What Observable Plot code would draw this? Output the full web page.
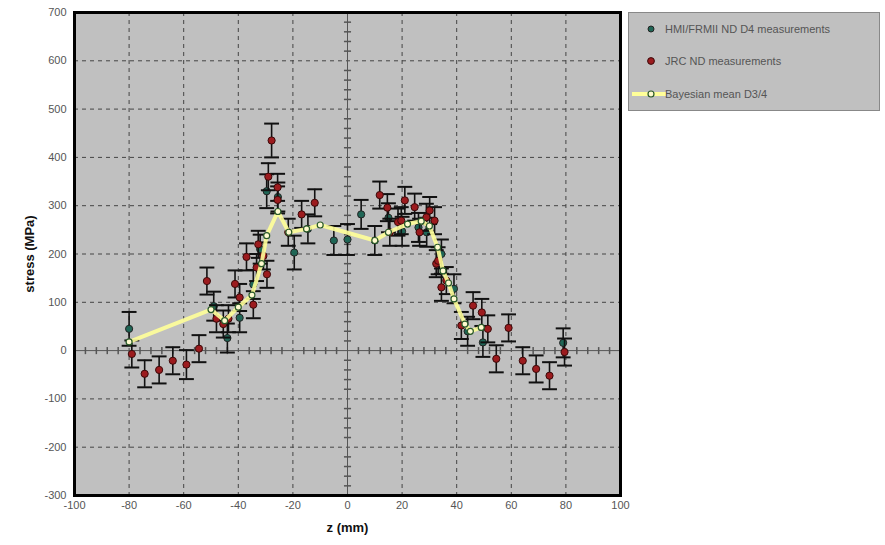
<!DOCTYPE html>
<html><head><meta charset="utf-8">
<script src="https://cdn.jsdelivr.net/npm/d3@7"></script>
<script src="https://cdn.jsdelivr.net/npm/@observablehq/plot@0.6"></script>
<style>
body{margin:0;background:#fff;font-family:"Liberation Sans",Arial,sans-serif;}
#wrap{position:relative;width:885px;height:545px;}
#legend{position:absolute;left:628px;top:12px;}
svg text{font-family:"Liberation Sans",Arial,sans-serif;}
#chart [aria-label="x-axis label"] text, #chart [aria-label="y-axis label"] text{font-weight:bold;font-size:13px;fill:#111;}
#chart [aria-label="x-axis tick label"] text, #chart [aria-label="y-axis tick label"] text{fill:#555;}
</style></head>
<body><div id="wrap"><div id="chart"></div><div id="legend"></div></div>
<script>
// HMI/FRMII ND D4 measurements
const hmiZ = [-80,-49,-44,-39.5,-34.5,-32,-29.6,-25.5,-19.5,-14.5,-5,0,5,10,15,20,26,29,34.4,39,44,49.6,79];
const hmiS = [45,92,26,68,137,210,330,318,203,252,228,230,282,228,275,247,255,245,200,128,40,17,16];
const hmiE = [35,30,30,30,30,30,35,30,35,30,30,32,30,30,30,30,30,30,30,30,30,30,30];
// JRC ND measurements
const jrcZ = [-79,-74.3,-69,-64,-59,-54.4,-51.5,-48,-45.5,-43.6,-41.2,-39.5,-37,-34.5,-33.3,-32.7,-30.8,-29.5,-29,-27.8,-25.6,-25.6,-21.7,-16.8,-12,11.8,14.6,15.5,18.5,19.7,21,24.6,26.4,28.9,30.1,31.9,32.5,33.2,34.4,36.2,41.7,46,49.2,51.4,54.5,59,64.2,69.1,74,79.5];
const jrcS = [-7,-48,-40,-21,-29,4,144,66,55,66,138,110,194,95,172,220,196,158,360,435,338,312,245,282,306,322,296,245,266,269,311,297,245,276,290,269,180,186,131,145,52,93,79,45,-17,47,-21,-38,-52,-3];
const jrcE = [28,28,28,28,30,28,28,28,28,28,28,28,28,28,28,28,28,28,28,35,28,28,28,28,28,28,28,28,28,28,28,28,28,28,28,28,28,28,28,28,28,28,28,28,28,28,28,28,28,28];
// Bayesian mean D3/4
const bayZ = [-80,-50,-45,-40,-35,-31.5,-29.6,-25.5,-21.5,-15,-10,10,15,22,27,30,33,35,37,39,43,45,49];
const bayS = [18,85,62,90,115,180,238,288,245,252,260,228,245,262,268,258,214,165,140,107,55,40,48];
// axes
const xTicks = [-100,-80,-60,-40,-20,0,20,40,60,80,100];
const yTicks = [-300,-200,-100,0,100,200,300,400,500,600,700];
const xMinor = [-96,-92,-88,-84,-76,-72,-68,-64,-56,-52,-48,-44,-36,-32,-28,-24,-16,-12,-8,-4,4,8,12,16,24,28,32,36,44,48,52,56,64,68,72,76,84,88,92,96];
const yMinor = [-280,-260,-240,-220,-180,-160,-140,-120,-80,-60,-40,-20,20,40,60,80,120,140,160,180,220,240,260,280,320,340,360,380,420,440,460,480,520,540,560,580,620,640,660,680];

const hmi = hmiZ.map((z,i)=>({z, s:hmiS[i], e:hmiE[i]}));
const jrc = jrcZ.map((z,i)=>({z, s:jrcS[i], e:jrcE[i]}));
const bay = bayZ.map((z,i)=>({z, s:bayS[i]}));

const hCap = {draw(ctx, size){const w=Math.sqrt(size); ctx.moveTo(-w,0); ctx.lineTo(w,0);}};
const vTick = {draw(ctx, size){const w=Math.sqrt(size); ctx.moveTo(0,-w); ctx.lineTo(0,w);}};

const RED="#9c1b1e", GRN="#1f6656", YEL="#ffff99";

function errMarks(data){
  return [
    Plot.ruleX(data,{x:"z", y1:d=>d.s-d.e, y2:d=>d.s+d.e, stroke:"#111", strokeWidth:1.6}),
    Plot.dot(data,{x:"z", y:d=>d.s-d.e, symbol:hCap, r:4.2, stroke:"#111", strokeWidth:2}),
    Plot.dot(data,{x:"z", y:d=>d.s+d.e, symbol:hCap, r:4.2, stroke:"#111", strokeWidth:2})
  ];
}

const chart = Plot.plot({
  width:885, height:545,
  marginLeft:74, marginRight:265, marginTop:12, marginBottom:50,
  style:{fontSize:"11px", background:"transparent", overflow:"visible"},
  x:{domain:[-100,100], ticks:xTicks, tickSize:0, tickPadding:6, tickFormat:d=>String(d), label:"z (mm)", labelAnchor:"center", labelArrow:"none", labelOffset:36},
  y:{domain:[-300,700], ticks:yTicks, tickSize:0, tickPadding:8, tickFormat:d=>String(d), label:"stress (MPa)", labelAnchor:"center", labelArrow:"none", labelOffset:50},
  marks:[
    Plot.frame({fill:"#c0c0c0"}),
    Plot.gridX(xTicks.filter(t=>t!==0 && t!==-100 && t!==100),{stroke:"#444", strokeOpacity:1, strokeWidth:1, strokeDasharray:"4,4"}),
    Plot.gridY(yTicks.filter(t=>t!==0 && t!==-300 && t!==700),{stroke:"#444", strokeOpacity:1, strokeWidth:1, strokeDasharray:"4,4"}),
    Plot.ruleX([0],{stroke:"#555", strokeWidth:1}),
    Plot.ruleY([0],{stroke:"#555", strokeWidth:1}),
    Plot.dot(xMinor,{x:d=>d, y:0, symbol:vTick, r:2, stroke:"#555"}),
    Plot.dot(yMinor,{x:0, y:d=>d, symbol:hCap, r:2, stroke:"#555"}),
    ...errMarks(hmi),
    Plot.dot(hmi,{x:"z", y:"s", r:3.6, fill:GRN, stroke:"#222", strokeWidth:1}),
    ...errMarks(jrc),
    Plot.dot(jrc,{x:"z", y:"s", r:3.6, fill:RED, stroke:"#3a0a0a", strokeWidth:1}),
    Plot.line(bay,{x:"z", y:"s", stroke:YEL, strokeWidth:4, strokeOpacity:0.9}),
    Plot.dot(bay,{x:"z", y:"s", r:3, fill:"#fffbd0", stroke:"#2a5a2a", strokeWidth:1.2}),
    Plot.frame({stroke:"#000", strokeWidth:3})
  ]
});
document.getElementById("chart").appendChild(chart);

// legend
const labels = ["HMI/FRMII ND D4 measurements","JRC ND measurements","Bayesian mean D3/4"];
const L = d3.select("#legend").append("svg").attr("width",252).attr("height",99);
L.append("rect").attr("x",0.5).attr("y",0.5).attr("width",251).attr("height",98).attr("fill","#c0c0c0").attr("stroke","#888");
const rows=[17,49,82];
L.append("circle").attr("cx",23).attr("cy",rows[0]).attr("r",3).attr("fill",GRN).attr("stroke","#222");
L.append("circle").attr("cx",23).attr("cy",rows[1]).attr("r",3.4).attr("fill",RED).attr("stroke","#3a0a0a");
L.append("line").attr("x1",4).attr("x2",38).attr("y1",rows[2]).attr("y2",rows[2]).attr("stroke",YEL).attr("stroke-width",4);
L.append("circle").attr("cx",23).attr("cy",rows[2]).attr("r",3).attr("fill","#fffbd0").attr("stroke","#2a5a2a").attr("stroke-width",1.2);
labels.forEach((t,i)=>L.append("text").attr("x",37).attr("y",rows[i]+4).attr("font-size",11).attr("fill","#555").text(t));
</script></body></html>
